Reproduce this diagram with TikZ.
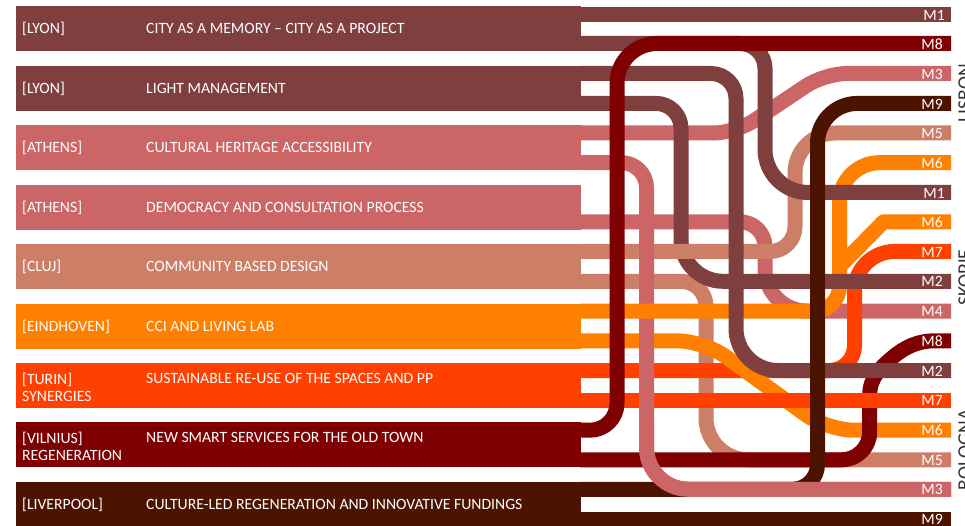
\documentclass[tikz,border=0pt]{standalone}
\usepackage{fontspec}
\setmainfont{Carlito}
\usetikzlibrary{calc}
\definecolor{cbrown}{HTML}{7F3F3F}
\definecolor{cpink}{HTML}{CC6666}
\definecolor{ctan}{HTML}{CC7F66}
\definecolor{corange}{HTML}{FF7F00}
\definecolor{cred}{HTML}{FF4000}
\definecolor{cmaroon}{HTML}{7F0000}
\definecolor{cdark}{HTML}{4C1400}
\newcommand{\Cnr}[4]{-- ($(#2)!#4pt!(#1)$) .. controls ($(#2)!0.448*#4pt!(#1)$) and ($(#2)!0.448*#4pt!(#3)$) .. ($(#2)!#4pt!(#3)$)}
\tikzset{
 x=1pt,y=-1pt,
 bar/.style={fill=#1,draw=none,minimum width=565pt,minimum height=45pt,inner sep=0pt,outer sep=0pt},
 lane/.style={draw=#1,line width=15pt,line cap=butt,line join=round},
 txt/.style={text=white,anchor=west,inner sep=0pt,font=\fontsize{15.7}{17}\selectfont,align=left},
 mlab/.style={text=white,anchor=east,inner sep=0pt,font=\fontsize{15.7}{17}\selectfont},
 city/.style={text=black!80,rotate=90,anchor=base,inner sep=0pt,font=\fontsize{19.6}{19.6}\selectfont}
}
\begin{document}
\begin{tikzpicture}
\useasboundingbox (0,0) rectangle (965,526);
% left bars
\node[bar=cbrown] (b1) at (298.5,28.5) {};
\node[bar=cbrown] (b2) at (298.5,88.5) {};
\node[bar=cpink] (b3) at (298.5,147.5) {};
\node[bar=cpink] (b4) at (298.5,207.5) {};
\node[bar=ctan] (b5) at (298.5,266.5) {};
\node[bar=corange] (b6) at (298.5,326.5) {};
\node[bar=cred] (b7) at (298.5,385.5) {};
\node[bar=cmaroon] (b8) at (298.5,444.5) {};
\node[bar=cdark] (b9) at (298.5,504.5) {};
% lane ends
\foreach \n/\y in {a/14.5,b/43.5,c/73.5,d/103.4,e/133,f/162.7,h/221.8,i/251.5,j/281.3,k/311,l/340.8,m/370.5,n/400.3,o/430.2,p/459.8,q/489.3,r/519.5}{
  \coordinate (l\n) at (580,\y);
  \coordinate (r\n) at (951,\y);
}
\coordinate (rg) at (951,192.5);
% M4
\draw[lane=cpink] (lh) \Cnr{lh}{765,221.8}{765,311}{25} \Cnr{765,221.8}{765,311}{rk}{42} -- (rk);
% M3 upper
\draw[lane=cpink] (le) \Cnr{le}{735.5,133}{824.7,73.5}{22} \Cnr{735.5,133}{824.7,73.5}{rc}{22} -- (rc);
% tan lower M5
\draw[lane=ctan] (lj) \Cnr{lj}{706,281.3}{706,459.8}{25} \Cnr{706,281.3}{706,459.8}{rp}{42} -- (rp);
% orange branch
\draw[lane=corange] (840,266) -- (883.5,221.8) -- (rh);
% red upper
\draw[lane=cred] (lm) \Cnr{lm}{854.5,370.5}{854.5,251.5}{25} \Cnr{854.5,370.5}{854.5,251.5}{ri}{40} -- (ri);
% orange diagonal
\draw[lane=corange] (ll) \Cnr{ll}{704,340.8}{827,430.2}{27} \Cnr{704,340.8}{827,430.2}{ro}{27} -- (ro);
% maroon lower
\draw[lane=cmaroon] (lp) \Cnr{lp}{869.7,459.8}{869.7,395}{28} -- (869.7,395) .. controls (869.7,378) and (880,368) .. (893,357) .. controls (905,347) and (918,340.8) .. (935,340.8) -- (rl);
% red straight
\draw[lane=cred] (ln) -- (rn);
% pink long
\draw[lane=cpink] (lf) \Cnr{lf}{646.5,162.7}{646.5,489.3}{25} \Cnr{646.5,162.7}{646.5,489.3}{rq}{42} -- (rq);
% orange main
\draw[lane=corange] (lk) \Cnr{lk}{839.5,311}{839.5,162.7}{25} \Cnr{839.5,311}{839.5,162.7}{rf}{40} -- (rf);
% brown y103
\draw[lane=cbrown] (ld) \Cnr{ld}{681,103.4}{681,281.3}{25} \Cnr{681,103.4}{681,281.3}{rj}{42} -- (rj);
% tan upper M5
\draw[lane=ctan] (li) \Cnr{li}{795,251.5}{795,133}{25} \Cnr{795,251.5}{795,133}{re}{40} -- (re);
% pink back over tan
\draw[lane=cpink] (646.5,235) -- (646.5,270);
% brown M1 lower
\draw[lane=cbrown] (lb) \Cnr{lb}{765,43.5}{765,192.5}{25} \Cnr{765,43.5}{765,192.5}{rg}{43} -- (rg);
% brown y73
\draw[lane=cbrown] (lc) \Cnr{lc}{736,73.5}{736,370.5}{25} \Cnr{736,73.5}{736,370.5}{rm}{42} -- (rm);
% straight M1
\draw[lane=cbrown] (la) -- (ra);
% maroon upper
\draw[lane=cmaroon] (lo) \Cnr{lo}{617,430.2}{617,43.5}{27} \Cnr{617,430.2}{617,43.5}{rb}{40} -- (rb);
% dark
\draw[lane=cdark] (lq) \Cnr{lq}{817.5,489.3}{817.5,103.4}{25} \Cnr{817.5,489.3}{817.5,103.4}{rd}{40} -- (rd);
\draw[lane=cdark] (lr) -- (rr);
% pink over dark
\draw[lane=cpink] (646.5,420) \Cnr{646.5,420}{646.5,489.3}{rq}{42} -- (rq);
% left texts
\node[txt] (t1a) at (22,28.7) {[LYON]};
\node[txt] (t1b) at (146,28.7) {CITY AS A MEMORY – CITY AS A PROJECT};
\node[txt] (t2a) at (22,88.7) {[LYON]};
\node[txt] (t2b) at (146,88.7) {LIGHT MANAGEMENT};
\node[txt] (t3a) at (22,147.7) {[ATHENS]};
\node[txt] (t3b) at (146,147.7) {CULTURAL HERITAGE ACCESSIBILITY};
\node[txt] (t4a) at (22,207.7) {[ATHENS]};
\node[txt] (t4b) at (146,207.7) {DEMOCRACY AND CONSULTATION PROCESS};
\node[txt] (t5a) at (22,266.7) {[CLUJ]};
\node[txt] (t5b) at (146,266.7) {COMMUNITY BASED DESIGN};
\node[txt] (t6a) at (22,326.7) {[EINDHOVEN]};
\node[txt] (t6b) at (146,326.7) {CCI AND LIVING LAB};
\node[txt] (t7a) at (22,387) {[TURIN]\\SYNERGIES};
\node[txt] (t7b) at (146,378.7) {SUSTAINABLE RE-USE OF THE SPACES AND PP};
\node[txt] (t8a) at (22,446.5) {[VILNIUS]\\REGENERATION};
\node[txt] (t8b) at (146,437.7) {NEW SMART SERVICES FOR THE OLD TOWN};
\node[txt] (t9a) at (22,504.7) {[LIVERPOOL]};
\node[txt] (t9b) at (146,504.7) {CULTURE-LED REGENERATION AND INNOVATIVE FUNDINGS};
% M labels
\foreach \nm/\t/\y/\xx in {ma/M1/15/945,mb/M8/44/943,mc/M3/74/943,md/M9/104/943,me/M5/133.5/943,mf/M6/163.2/943,mg/M1/193/945,mh/M6/222.3/943,mi/M7/252/943,mj/M2/281.8/943,mk/M4/311.5/943,ml/M8/341.3/943,mm/M2/371/943,mn/M7/400.8/943,mo/M6/430.7/943,mp/M5/460.3/943,mq/M3/489.8/943,mr/M9/519.5/943}{
  \node[mlab] (\nm) at (\xx,\y) {\t};
}
\begin{scope}
\clip (0,0) rectangle (965,526);
\node[city] (c1) at (971,93) {LISBON};
\node[city] (c2) at (971,277.5) {SKOPJE};
\node[city] (c3) at (971,450) {BOLOGNA};
\end{scope}
\end{tikzpicture}
\end{document}
